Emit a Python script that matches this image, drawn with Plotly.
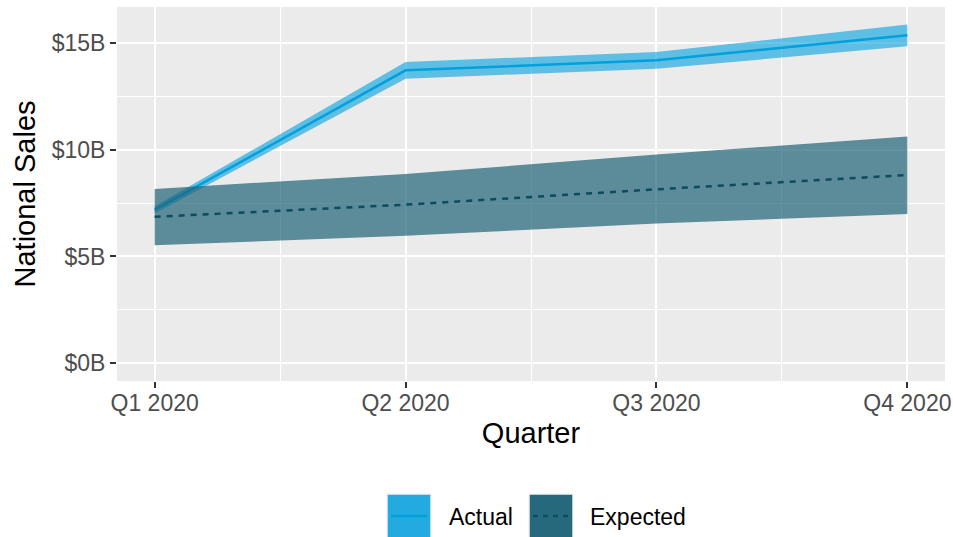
import plotly.graph_objects as go

quarters = ["Q1 2020", "Q2 2020", "Q3 2020", "Q4 2020"]
actual = [7.19, 13.73, 14.20, 15.37]
actual_low = [7.02, 13.34, 13.80, 14.86]
actual_high = [7.35, 14.12, 14.59, 15.88]
expected = [6.86, 7.43, 8.15, 8.82]
expected_low = [5.53, 5.97, 6.55, 6.99]
expected_high = [8.17, 8.87, 9.78, 10.63]
y_ticks = [0, 5, 10, 15]
y_tick_labels = ["$0B", "$5B", "$10B", "$15B"]

FONT = "Liberation Sans, Arial, Helvetica, sans-serif"
ACT = "rgb(0,160,220)"
ACT_FILL = "rgba(0,160,224,0.6)"
EXP = "rgb(13,75,95)"
EXP_FILL = "rgba(31,99,120,0.7)"

xi = list(range(len(quarters)))

fig = go.Figure()
fig.add_trace(go.Scatter(x=xi + xi[::-1], y=actual_high + actual_low[::-1],
                         fill="toself", fillcolor=ACT_FILL, line=dict(width=0),
                         mode="lines", showlegend=False, hoverinfo="skip"))
fig.add_trace(go.Scatter(x=xi, y=actual, mode="lines",
                         line=dict(color=ACT, width=2.5), showlegend=False))
fig.add_trace(go.Scatter(x=xi + xi[::-1], y=expected_high + expected_low[::-1],
                         fill="toself", fillcolor=EXP_FILL, line=dict(width=0),
                         mode="lines", showlegend=False, hoverinfo="skip"))
fig.add_trace(go.Scatter(x=xi, y=expected, mode="lines",
                         line=dict(color=EXP, width=2.5, dash="6px,6px"), showlegend=False))

# manual legend (paper coords)
L, W, T, H = 117, 828, 7, 374
def px(x): return (x - L) / W
def py(y): return (T + H - y) / H

legend_items = [("Actual", "rgb(35,170,222)", ACT, "solid", 387, 447),
                ("Expected", "rgb(38,104,124)", EXP, "dot", 529, 588)]
shapes = []
annotations = []
for name, keyfill, lc, dash, kx, tx in legend_items:
    shapes.append(dict(type="rect", xref="paper", yref="paper",
                       x0=px(kx), x1=px(kx + 44), y0=py(538), y1=py(494),
                       fillcolor=keyfill, line=dict(color="rgb(242,242,242)", width=1.5),
                       layer="above"))
    shapes.append(dict(type="line", xref="paper", yref="paper",
                       x0=px(kx + 4), x1=px(kx + 40), y0=py(516), y1=py(516),
                       line=dict(color=lc, width=2.5,
                                 dash="solid" if dash == "solid" else "5px,5px"),
                       layer="above"))
    annotations.append(dict(text=name, xref="paper", yref="paper",
                            x=px(tx), y=py(517), xanchor="left", yanchor="middle",
                            showarrow=False, font=dict(size=23, color="black", family=FONT)))

fig.update_layout(
    width=953, height=537,
    margin=dict(l=117, r=8, t=7, b=156),
    paper_bgcolor="white", plot_bgcolor="rgb(235,235,235)",
    font=dict(family=FONT),
    shapes=shapes, annotations=annotations,
    xaxis=dict(range=[-0.15, 3.15], tickvals=xi, ticktext=quarters, automargin=False,
               showgrid=True, gridcolor="white", gridwidth=2,
               minor=dict(tickvals=[0.5, 1.5, 2.5], showgrid=True, gridcolor="white", gridwidth=1, ticks=""),
               ticks="outside", ticklen=6, tickwidth=2, tickcolor="rgb(51,51,51)",
               ticklabelstandoff=-5,
               tickfont=dict(size=23, color="rgb(77,77,77)"),
               title=dict(text="Quarter", font=dict(size=29, color="black"), standoff=8),
               zeroline=False, fixedrange=True),
    yaxis=dict(range=[-0.84, 16.7], tickvals=y_ticks, ticktext=y_tick_labels, automargin=False,
               showgrid=True, gridcolor="white", gridwidth=2,
               minor=dict(tickvals=[2.5, 7.5, 12.5], showgrid=True, gridcolor="white", gridwidth=1, ticks=""),
               ticks="outside", ticklen=6, tickwidth=2, tickcolor="rgb(51,51,51)",
               tickfont=dict(size=23, color="rgb(77,77,77)"),
               title=dict(text="National Sales", font=dict(size=29, color="black"), standoff=7),
               zeroline=False, fixedrange=True),
)

fig.write_html("out.html")
